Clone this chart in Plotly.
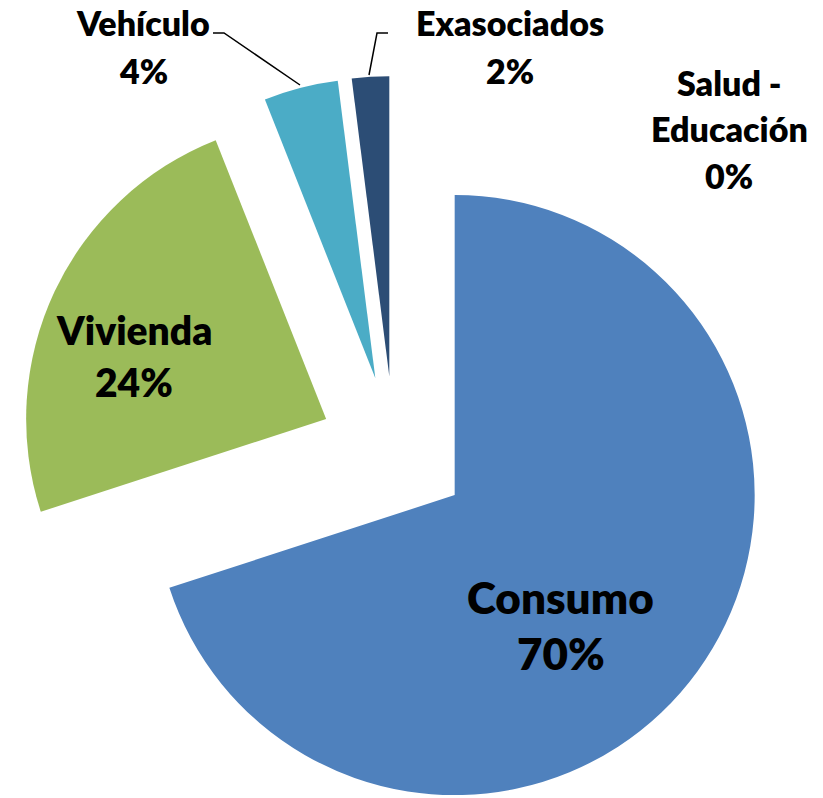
import plotly.graph_objects as go

# data
labels = ["Consumo", "Vivienda", "Vehículo", "Exasociados", "Salud - Educación"]
values = [70, 24, 4, 2, 0]
colors = ["#4F81BD", "#9BBB59", "#4BACC6", "#2C4D75", "#F79646"]

W, H = 823, 826  # a bit taller than the window so the exploded pie keeps its size


def px(x, y):
    return x / W, 1 - y / H


fig = go.Figure(go.Pie(
    labels=labels, values=values,
    sort=False, direction="clockwise", rotation=0,
    pull=[0.25] * len(values),
    marker=dict(colors=colors, line=dict(width=0)),
    textinfo="none", hoverinfo="label+percent",
    domain=dict(x=[19 / W, 769 / W], y=[0, 750 / H]),
    showlegend=False,
))

FONT = "Lato"
# (text, center x, center y, size) for each label line
label_lines = [
    (labels[0], 560, 597, 44), (f"{values[0]}%", 561, 653, 44),
    (labels[1], 134, 330, 39), (f"{values[1]}%", 134, 382, 39),
    (labels[2], 143, 23, 34), (f"{values[2]}%", 143, 70, 34),
    (labels[3], 510, 23, 34), (f"{values[3]}%", 510, 70, 34),
    ("Salud -", 729, 82, 34), ("Educación", 729, 128, 34), (f"{values[4]}%", 729, 175, 34),
]
for txt, x, y, s in label_lines:
    ax, ay = px(x, y)
    fig.add_annotation(x=ax, y=ay, xref="paper", yref="paper", text=txt,
                       showarrow=False, xanchor="center", yanchor="middle",
                       font=dict(family=FONT, size=s, color="black", weight=800))

# leader lines for the small slices
leaders = [
    [(213, 33), (224, 33), (300, 85)],
    [(388, 33), (377, 33), (369, 75)],
]
for pts in leaders:
    path = ""
    for i, (x, y) in enumerate(pts):
        a, b = px(x, y)
        path += ("M" if i == 0 else " L") + f" {a} {b}"
    fig.add_shape(type="path", path=path, xref="paper", yref="paper",
                  line=dict(color="black", width=1.5))

fig.update_layout(
    width=W, height=H,
    margin=dict(l=0, r=0, t=0, b=0),
    paper_bgcolor="white", plot_bgcolor="white",
)

# drop the default body margin so the chart sits at the page corner
fig.write_html("out.html", config={"displayModeBar": False},
               post_script="document.body.style.margin = '0';")
